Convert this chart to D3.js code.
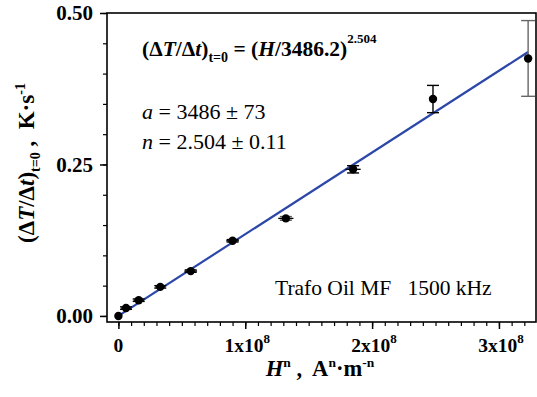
<!DOCTYPE html>
<html><head><meta charset="utf-8">
<script src="https://cdn.jsdelivr.net/npm/d3@7"></script>
<style>body{margin:0;background:#fff}svg{display:block}text{font-family:"Liberation Serif","Times New Roman",serif}</style>
</head><body><svg id="c" width="537" height="397"></svg>
<script>
// Data (x in A^n·m^-n, y in K/s)
const hn   = [0, 0.06e8, 0.16e8, 0.33e8, 0.57e8, 0.90e8, 1.32e8, 1.85e8, 2.48e8, 3.23e8];
const rate = [0, 0.013, 0.026, 0.048, 0.074, 0.124, 0.161, 0.242, 0.358, 0.425];
const rateErr = [0, 0.002, 0.002, 0.002, 0.002, 0.002, 0.003, 0.006, 0.0225, 0.0625];
const hnErr = [0, 0.04e8, 0.04e8, 0.04e8, 0.05e8, 0.05e8, 0.06e8, 0.06e8, 0, 0];
const errColor = ["#000","#000","#000","#000","#000","#000","#555","#000","#000","#666"];
const fitA = 3486.2, fitN = 2.504;
const yTicks = [0, 0.25, 0.5];
const xTicks = [0, 1e8, 2e8, 3e8];
const xTickLabels = ["0", "1x10", "2x10", "3x10"];
const xTickExp = ["", "8", "8", "8"];

const svg = d3.select("#c");
const L = 107, R = 536, T = 13, B = 322;
const x = d3.scaleLinear().domain([-0.09e8, 3.30e8]).range([L, 537]);
const y = d3.scaleLinear().domain([-0.01, 0.5]).range([B, T]);

// minor ticks
const yMinor = d3.range(0, 0.5001, 0.05);
const xMinor = d3.range(0, 3.25e8, 1e7);
svg.append("g").attr("transform", `translate(${L},0)`)
  .call(d3.axisLeft(y).tickValues(yMinor).tickSize(4).tickFormat(""))
  .call(g => g.select(".domain").remove())
  .selectAll("line").attr("stroke-width", 1.2);
svg.append("g").attr("transform", `translate(0,${B})`)
  .call(d3.axisBottom(x).tickValues(xMinor).tickSize(4).tickFormat(""))
  .call(g => g.select(".domain").remove())
  .selectAll("line").attr("stroke-width", 1.2);
// major ticks
const ya = svg.append("g").attr("transform", `translate(${L},0)`)
  .call(d3.axisLeft(y).tickValues(yTicks).tickSize(7).tickPadding(7).tickFormat(d3.format(".2f")));
ya.select(".domain").remove();
ya.selectAll("line").attr("stroke-width", 1.5);
ya.selectAll("text").attr("font-size", 21).attr("font-weight", "bold").attr("font-family", "Liberation Serif").attr("fill","#000");
const xa = svg.append("g").attr("transform", `translate(0,${B})`)
  .call(d3.axisBottom(x).tickValues(xTicks).tickSize(7).tickFormat(""));
xa.select(".domain").remove();
xa.selectAll("line").attr("stroke-width", 1.5);
xTicks.forEach((v, i) => {
  const t = svg.append("text").attr("x", x(v) + (xTickExp[i] ? 2 : 0)).attr("y", 352).attr("text-anchor", "middle")
    .attr("font-size", 19.5).attr("font-weight", "bold");
  t.append("tspan").text(xTickLabels[i]);
  if (xTickExp[i]) t.append("tspan").attr("dy", -9).attr("font-size", 13).text(xTickExp[i]);
});

// frame
svg.append("rect").attr("x", L).attr("y", T).attr("width", R - L).attr("height", B - T)
  .attr("fill", "none").attr("stroke", "#000").attr("stroke-width", 1.6);

// fit line
const fitX = [0, 3.23e8];
svg.append("path").attr("d", d3.line().x(d => x(d)).y(d => y(d / Math.pow(fitA, fitN)))(fitX))
  .attr("stroke", "#2b47a8").attr("stroke-width", 2.2).attr("fill", "none");

// error bars
const eg = svg.append("g");
hn.forEach((v, i) => {
  const c = errColor[i];
  const cw = i === hn.length - 1 ? 7 : 6;
  if (rateErr[i] > 0) {
    const y1 = y(rate[i] + rateErr[i]), y2 = y(rate[i] - rateErr[i]);
    eg.append("line").attr("x1", x(v)).attr("x2", x(v)).attr("y1", y1).attr("y2", y2).attr("stroke", c).attr("stroke-width", 1.4);
    [y1, y2].forEach(yy => eg.append("line").attr("x1", x(v) - cw).attr("x2", x(v) + cw).attr("y1", yy).attr("y2", yy).attr("stroke", c).attr("stroke-width", 1.4));
  }
  if (hnErr[i] > 0) {
    eg.append("line").attr("x1", x(v - hnErr[i])).attr("x2", x(v + hnErr[i])).attr("y1", y(rate[i])).attr("y2", y(rate[i])).attr("stroke", "#000").attr("stroke-width", 1.3);
  }
});
// points
svg.append("g").selectAll("circle").data(hn).join("circle")
  .attr("cx", d => x(d)).attr("cy", (d, i) => y(rate[i])).attr("r", 4.2).attr("fill", "#000");

// annotations
const f = svg.append("text").attr("x", 142).attr("y", 56).attr("font-size", 21.5).attr("font-weight", "bold");
f.append("tspan").text("(Δ");
f.append("tspan").attr("font-style", "italic").text("T");
f.append("tspan").text("/Δ");
f.append("tspan").attr("font-style", "italic").text("t");
f.append("tspan").text(")");
f.append("tspan").attr("dy", 6).attr("font-size", 14).text("t=0");
f.append("tspan").attr("dy", -6).text(" = (");
f.append("tspan").attr("font-style", "italic").text("H");
f.append("tspan").text("/3486.2)");
f.append("tspan").attr("dy", -13).attr("font-size", 13).text("2.504");

const a = svg.append("text").attr("x", 142).attr("y", 119).attr("font-size", 22);
a.append("tspan").attr("font-style", "italic").text("a");
a.append("tspan").text(" = 3486 ± 73");
const n = svg.append("text").attr("x", 142).attr("y", 149).attr("font-size", 22);
n.append("tspan").attr("font-style", "italic").text("n");
n.append("tspan").text(" = 2.504 ± 0.11");

svg.append("text").attr("x", 275).attr("y", 295).attr("font-size", 21.5).style("white-space", "pre").text("Trafo Oil MF   1500 kHz");

// axis titles
const xt = svg.append("text").attr("x", 320).attr("y", 376).attr("text-anchor", "middle").attr("font-size", 22.5).attr("font-weight", "bold").style("white-space", "pre");
xt.append("tspan").attr("font-style", "italic").text("H");
xt.append("tspan").attr("dy", -9).attr("font-size", 13.5).text("n");
xt.append("tspan").attr("dy", 9).text(" ,  A");
xt.append("tspan").attr("dy", -9).attr("font-size", 13.5).text("n");
xt.append("tspan").attr("dy", 9).text("·m");
xt.append("tspan").attr("dy", -9).attr("font-size", 13.5).text("-n");

const yt = svg.append("text").attr("transform", "translate(34,163) rotate(-90)").attr("text-anchor", "middle").attr("font-size", 23).attr("font-weight", "bold").style("white-space", "pre");
yt.append("tspan").text("(Δ");
yt.append("tspan").attr("font-style", "italic").text("T");
yt.append("tspan").text("/Δ");
yt.append("tspan").attr("font-style", "italic").text("t");
yt.append("tspan").text(")");
yt.append("tspan").attr("dy", 6).attr("font-size", 14).text("t=0");
yt.append("tspan").attr("dy", -6).text(" ,  K·s");
yt.append("tspan").attr("dy", -9).attr("font-size", 14).text("-1");
</script></body></html>
